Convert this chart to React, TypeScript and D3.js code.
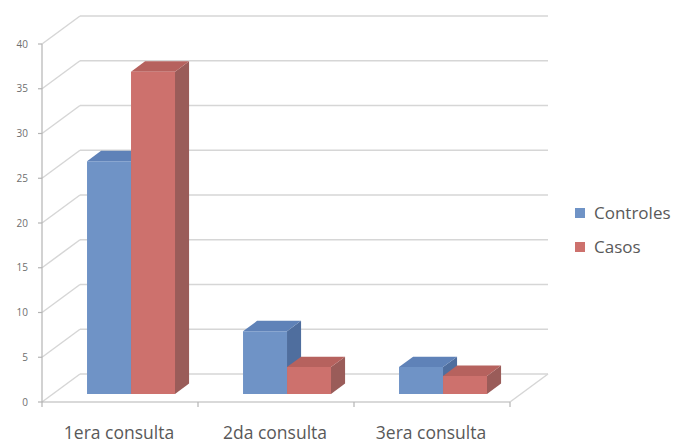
import React from "react";
import * as d3 from "d3";

const categories = ["1era consulta", "2da consulta", "3era consulta"];
const seriesNames = ["Controles", "Casos"];
const controles = [26, 7, 3];
const casos = [36, 3, 2];
const yTicks = [0, 5, 10, 15, 20, 25, 30, 35, 40];

const W = 677;
const H = 445;
const DX = 38; // depth offset x
const DY = 28; // depth offset y
const D0 = 0.29;
const D1 = 0.66;

const palette: Record<string, { front: string; side: string; top: string }> = {
  Controles: { front: "#6F93C6", side: "#4F6E9E", top: "#5F82B8" },
  Casos: { front: "#CD716D", side: "#9A5C59", top: "#B6625E" },
};

export default function App() {
  const y = d3.scaleLinear().domain([0, 40]).range([402, 44]);
  const x = d3.scaleBand<string>().domain(categories).range([42, 510]);
  const bw = x.bandwidth();
  const groupW = bw * 0.564;
  const values: Record<string, number[]> = { Controles: controles, Casos: casos };

  const P = (px: number, py: number, d: number) => [px + d * DX, py - d * DY];
  const pts = (arr: number[][]) => arr.map((p) => p.join(",")).join(" ");

  const gridColor = "#d6d6d6";
  const axisColor = "#b4b4b4";

  const bars: React.ReactNode[] = [];
  categories.forEach((c, ci) => {
    const center = (x(c) as number) + bw / 2;
    const xs = d3
      .scaleBand<string>()
      .domain(seriesNames)
      .range([center - groupW / 2, center + groupW / 2]);
    seriesNames.forEach((s) => {
      const v = values[s][ci];
      const x0 = xs(s) as number;
      const x1 = x0 + xs.bandwidth();
      const yb = y(0);
      const yt = y(v);
      const col = palette[s];
      const fbl = P(x0, yb, D0), fbr = P(x1, yb, D0), ftr = P(x1, yt, D0), ftl = P(x0, yt, D0);
      const bbr = P(x1, yb, D1), btr = P(x1, yt, D1), btl = P(x0, yt, D1);
      bars.push(
        <g key={c + s}>
          <polygon points={pts([fbr, bbr, btr, ftr])} fill={col.side} />
          <polygon points={pts([ftl, ftr, btr, btl])} fill={col.top} />
          <polygon points={pts([fbl, fbr, ftr, ftl])} fill={col.front} />
        </g>
      );
    });
  });

  const x0 = 42, x1 = 510;

  return (
    <svg
      width={W}
      height={H}
      style={{ position: "absolute", left: 0, top: 0, background: "#fff" }}
      fontFamily="'Open Sans', sans-serif"
    >
      <rect width={W} height={H} fill="#fff" />
      {/* back wall gridlines + side wall diagonals */}
      {yTicks.map((t) => {
        const f = P(x0, y(t), 0);
        const b = P(x0, y(t), 1);
        const br = P(x1, y(t), 1);
        return (
          <g key={t}>
            <line x1={b[0]} y1={b[1]} x2={br[0]} y2={br[1]} stroke={gridColor} strokeWidth={1.5} />
            <line x1={f[0]} y1={f[1]} x2={b[0]} y2={b[1]} stroke={gridColor} strokeWidth={1.5} />
          </g>
        );
      })}
      {/* floor */}
      {(() => {
        const fr = P(x1, y(0), 0);
        const br = P(x1, y(0), 1);
        return <line x1={fr[0]} y1={fr[1]} x2={br[0]} y2={br[1]} stroke={gridColor} strokeWidth={1.5} />;
      })()}
      <line x1={x0} y1={y(0)} x2={x1} y2={y(0)} stroke={axisColor} strokeWidth={1.2} />
      {/* front vertical axis */}
      <line x1={x0} y1={y(40)} x2={x0} y2={y(0)} stroke={axisColor} strokeWidth={1.2} />
      {yTicks.map((t) => (
        <g key={"yt" + t}>
          <line x1={x0 - 4} y1={y(t)} x2={x0} y2={y(t)} stroke={axisColor} strokeWidth={1.2} />
          <text x={28} y={y(t)} dy="0.35em" textAnchor="end" fontSize={10} fill="#6e6e6e">
            {t}
          </text>
        </g>
      ))}
      {/* x ticks */}
      {[...categories.map((c) => x(c) as number), x1].map((v, i) => (
        <line key={"xt" + i} x1={v} y1={y(0)} x2={v} y2={y(0) + 5} stroke={axisColor} strokeWidth={1.2} />
      ))}
      {bars}
      {categories.map((c) => (
        <text
          key={"lab" + c}
          x={(x(c) as number) + bw / 2 - 1}
          y={439}
          textAnchor="middle"
          fontSize={17.5}
          fill="#595959"
        >
          {c}
        </text>
      ))}
      {/* legend */}
      {seriesNames.map((s, i) => (
        <g key={"lg" + s} transform={`translate(575, ${213 + i * 34})`}>
          <rect x={0} y={-5} width={10} height={10} fill={palette[s].front} />
          <text x={19} y={0} dy="0.35em" fontSize={17} fill="#595959">
            {s}
          </text>
        </g>
      ))}
    </svg>
  );
}
